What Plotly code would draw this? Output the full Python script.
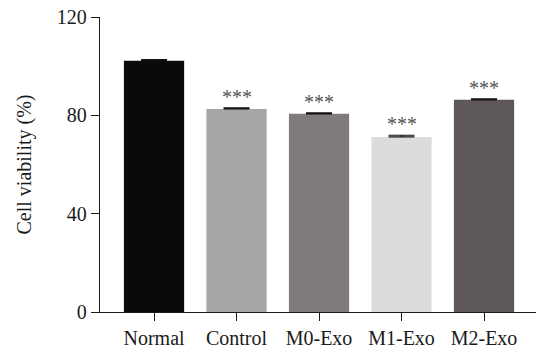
import plotly.graph_objects as go

categories = ["Normal", "Control", "M0-Exo", "M1-Exo", "M2-Exo"]
values = [102.2, 82.6, 80.6, 71.2, 86.3]
errors = [0.5, 0.4, 0.4, 0.7, 0.4]
colors = ["#0a0a0a", "#a7a5a7", "#807b7a", "#dcdcdc", "#5e5958"]
signif = ["", "***", "***", "***", "***"]
y_ticks = [0, 40, 80, 120]

FONT = "Liberation Serif, Times New Roman, serif"

fig = go.Figure()
fig.add_trace(go.Bar(
    x=list(range(len(categories))),
    y=values,
    width=0.73,
    marker=dict(color=colors, line=dict(width=0)),
    error_y=dict(type="data", symmetric=False, array=errors,
                 arrayminus=[0] * len(errors),
                 color="#111111", thickness=1.2, width=13),
    showlegend=False,
))

for i, (v, e, s) in enumerate(zip(values, errors, signif)):
    if s:
        fig.add_annotation(x=i, y=v + e, text=s, showarrow=False,
                           yanchor="bottom", yshift=-2,
                           font=dict(family=FONT, size=20, color="#555555"))

fig.update_layout(
    width=536, height=353,
    margin=dict(l=100, r=0, t=17, b=41),
    paper_bgcolor="white", plot_bgcolor="white",
    font=dict(family=FONT, color="#1a1a1a"),
)
fig.update_xaxes(
    range=[-0.655, 4.63],
    tickmode="array", tickvals=list(range(len(categories))), ticktext=categories,
    showline=True, linecolor="#1a1a1a", linewidth=1.3,
    ticks="outside", ticklen=8, tickwidth=1.3, tickcolor="#1a1a1a",
    tickfont=dict(family=FONT, size=20, color="#1a1a1a"),
    showgrid=False, zeroline=False,
)
fig.update_yaxes(
    range=[0, 120],
    tickmode="array", tickvals=y_ticks,
    showline=True, linecolor="#1a1a1a", linewidth=1.3,
    ticks="outside", ticklen=8, tickwidth=1.3, tickcolor="#1a1a1a",
    tickfont=dict(family=FONT, size=20, color="#1a1a1a"),
    title=dict(text="Cell viability (%)", font=dict(family=FONT, size=20, color="#1a1a1a"),
               standoff=19),
    showgrid=False, zeroline=False,
)

fig.write_html("out.html")
